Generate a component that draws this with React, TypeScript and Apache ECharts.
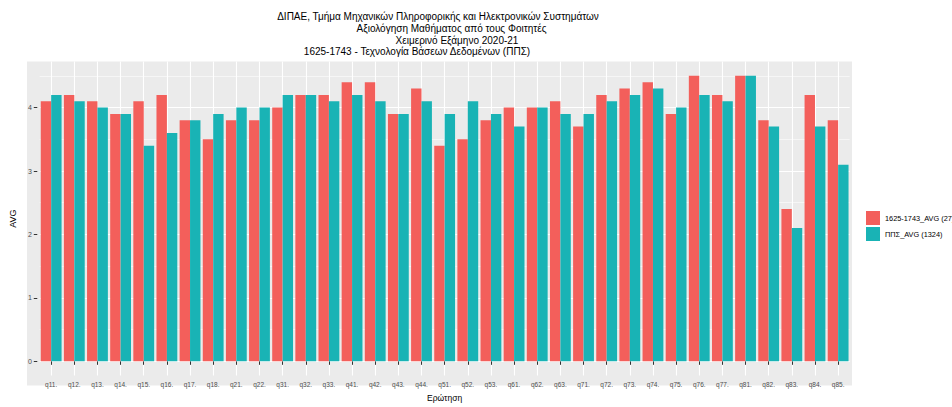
import React, { useEffect, useRef } from "react";
import * as echarts from "echarts";

const categories = [
  "q11.", "q12.", "q13.", "q14.", "q15.", "q16.", "q17.", "q18.", "q21.", "q22.",
  "q31.", "q32.", "q33.", "q41.", "q42.", "q43.", "q44.", "q51.", "q52.", "q53.",
  "q61.", "q62.", "q63.", "q71.", "q72.", "q73.", "q74.", "q75.", "q76.", "q77.",
  "q81.", "q82.", "q83.", "q84.", "q85.",
];

const courseAvg = [
  4.1, 4.2, 4.1, 3.9, 4.1, 4.2, 3.8, 3.5, 3.8, 3.8,
  4.0, 4.2, 4.2, 4.4, 4.4, 3.9, 4.3, 3.4, 3.5, 3.8,
  4.0, 4.0, 4.1, 3.7, 4.2, 4.3, 4.4, 3.9, 4.5, 4.2,
  4.5, 3.8, 2.4, 4.2, 3.8,
];

const programAvg = [
  4.2, 4.1, 4.0, 3.9, 3.4, 3.6, 3.8, 3.9, 4.0, 4.0,
  4.2, 4.2, 4.1, 4.2, 4.1, 3.9, 4.1, 3.9, 4.1, 3.9,
  3.7, 4.0, 3.9, 3.9, 4.1, 4.2, 4.3, 4.0, 4.2, 4.1,
  4.5, 3.7, 2.1, 3.7, 3.1,
];

const seriesNames = ["1625-1743_AVG (27)", "ΠΠΣ_AVG (1324)"];
const majorTicks = [0, 1, 2, 3, 4];
const minorTicks = [0.5, 1.5, 2.5, 3.5, 4.5];

const titleLines = [
  "ΔΙΠΑΕ, Τμήμα Μηχανικών Πληροφορικής και Ηλεκτρονικών Συστημάτων",
  "Αξιολόγηση Μαθήματος από τους Φοιτητές",
  "Χειμερινό Εξάμηνο 2020-21",
  "1625-1743 - Τεχνολογία Βάσεων Δεδομένων (ΠΠΣ)",
];
const titleCenters = [438, 451.5, 457, 417];
const titleY = [16.5, 28.2, 40, 51.7];

const FONT = "'Liberation Sans', Arial, sans-serif";
const RED = "#F35F5B";
const TEAL = "#19B3B5";
const Y_MIN = -0.225;
const Y_MAX = 4.725;
const W = 952;
const H = 407;

export default function App() {
  const ref = useRef<HTMLDivElement>(null);
  const vh =
    typeof window !== "undefined" && window.innerHeight > 0
      ? window.innerHeight
      : H;

  useEffect(() => {
    if (!ref.current) return;
    const s = vh / H;
    const chart = echarts.init(ref.current, undefined, {
      renderer: "svg",
      width: W,
      height: vh,
    });

    const option: any = {
      animation: false,
      backgroundColor: "#ffffff",
      textStyle: { fontFamily: FONT },
      graphic: [
        {
          type: "rect",
          z: -10,
          silent: true,
          shape: { x: 27, y: 61.6 * s, width: 825, height: 323.8 * s },
          style: { fill: "#EBEBEB" },
        },
        ...titleLines.map((t, i) => ({
          type: "text",
          x: titleCenters[i],
          y: titleY[i] * s,
          silent: true,
          style: {
            text: t,
            fill: "#000000",
            font: `10px ${FONT}`,
            textAlign: "center",
            textVerticalAlign: "middle",
          },
        })),
      ],
      legend: {
        orient: "vertical",
        left: 866,
        top: 211 * s,
        padding: 0,
        itemWidth: 14,
        itemHeight: 14 * s,
        itemGap: 2 * s,
        icon: "rect",
        data: seriesNames,
        textStyle: { fontSize: 7.35, color: "#000000", fontFamily: FONT },
      },
      grid: {
        left: 29.3,
        top: 61.6 * s,
        width: 820.4,
        height: 323.8 * s,
        containLabel: false,
      },
      xAxis: {
        type: "category",
        data: categories,
        boundaryGap: true,
        name: "Ερώτηση",
        nameLocation: "middle",
        nameGap: 17 * s,
        nameTextStyle: { fontSize: 8.5, color: "#000000", fontFamily: FONT },
        axisLine: { show: false },
        axisTick: {
          show: true,
          alignWithLabel: true,
          length: 3.5 * s,
          lineStyle: { color: "#333333", width: 1 },
        },
        axisLabel: {
          fontSize: 6.5,
          color: "#4D4D4D",
          margin: 5.5 * s,
          interval: 0,
          fontFamily: FONT,
        },
        splitLine: {
          show: true,
          alignWithLabel: true,
          lineStyle: { color: "#ffffff", width: 1.1 },
        },
      },
      yAxis: [
        {
          type: "value",
          min: Y_MIN,
          max: Y_MAX,
          offset: 2.3,
          name: "AVG",
          nameLocation: "middle",
          nameGap: 14,
          nameRotate: 90,
          nameTextStyle: { fontSize: 9, color: "#000000", fontFamily: FONT },
          axisLine: { show: false },
          axisTick: {
            show: true,
            length: 3.5,
            customValues: majorTicks,
            lineStyle: { color: "#333333", width: 1 },
          },
          axisLabel: {
            customValues: majorTicks,
            fontSize: 7,
            color: "#4D4D4D",
            margin: 5.5,
            fontFamily: FONT,
          },
          splitLine: { show: true, lineStyle: { color: "#ffffff", width: 1.1 } },
        },
        {
          type: "value",
          min: Y_MIN,
          max: Y_MAX,
          axisLine: { show: false },
          axisTick: { show: false, customValues: minorTicks },
          axisLabel: { show: false, customValues: minorTicks },
          splitLine: { show: true, lineStyle: { color: "#ffffff", width: 0.55 } },
        },
      ],
      series: [
        {
          name: seriesNames[0],
          type: "bar",
          data: courseAvg,
          itemStyle: { color: RED },
          barGap: "0%",
          barCategoryGap: "10%",
          z: 3,
        },
        {
          name: seriesNames[1],
          type: "bar",
          data: programAvg,
          itemStyle: { color: TEAL },
          barGap: "0%",
          barCategoryGap: "10%",
          z: 3,
        },
      ],
    };

    chart.setOption(option);
    return () => chart.dispose();
  }, [vh]);

  return (
    <>
      <style>{`html, body { margin: 0; padding: 0; overflow: hidden; }`}</style>
      <div
        ref={ref}
        style={{ display: "block", width: W, height: vh, overflow: "hidden" }}
      />
    </>
  );
}
